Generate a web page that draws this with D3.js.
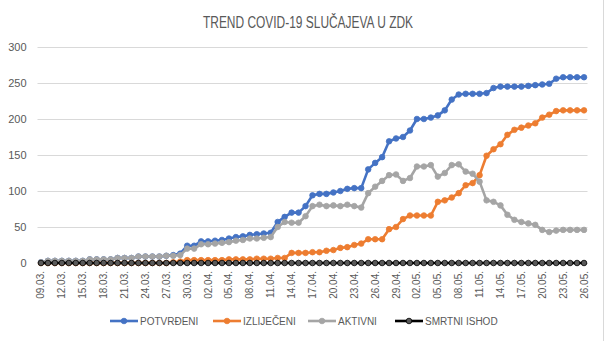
<!DOCTYPE html>
<html>
<head>
<meta charset="utf-8">
<script src="https://cdn.jsdelivr.net/npm/d3@7"></script>
<style>
  html, body { margin: 0; padding: 0; background: #fff; }
  svg { display: block; font-family: "Liberation Sans", Arial, sans-serif; }
</style>
</head>
<body>
<svg id="chart" width="605" height="341"></svg>
<script>
// ---- data ----
const dates = (function () {
  const out = [];
  const months = [[3, 9, 31], [4, 1, 30], [5, 1, 26]];
  months.forEach(([m, s, e]) => {
    for (let d = s; d <= e; d++) out.push(String(d).padStart(2, "0") + "." + String(m).padStart(2, "0") + ".");
  });
  return out;
})();

const potvrdeni = [1,3,3,3,3,3,3,5,5,5,5,7,7,7,9,9,9,9,10,11,13,24,24,30,30,31,32,34,36,37,39,40,41,42,57,64,70,70,79,94,96,96,98,100,103,104,104,130,139,147,169,173,175,184,200,200,202,205,212,227,234,235,235,235,236,243,245,245,245,245,246,247,248,249,256,258,258,258,258];
const izlijeceni = [0,0,0,0,0,0,0,0,0,0,0,0,0,0,0,0,0,0,0,1,2,4,4,4,4,4,4,5,5,5,5,6,6,6,7,7,14,14,14,15,15,17,18,21,22,25,27,33,33,33,47,50,61,66,66,66,66,85,87,91,97,108,111,122,149,158,165,178,185,188,191,194,202,206,211,212,212,212,212];
const aktivni = [1,3,3,3,3,3,3,5,5,5,5,7,7,7,9,9,9,9,10,10,11,20,20,26,26,27,28,29,31,32,34,34,35,36,50,57,56,56,65,79,81,79,80,79,81,79,77,97,106,114,122,123,114,118,134,134,136,120,125,136,137,127,124,113,87,85,80,67,60,57,55,53,46,43,45,46,46,46,46];
const smrtni = [0,0,0,0,0,0,0,0,0,0,0,0,0,0,0,0,0,0,0,0,0,0,0,0,0,0,0,0,0,0,0,0,0,0,0,0,0,0,0,0,0,0,0,0,0,0,0,0,0,0,0,0,0,0,0,0,0,0,0,0,0,0,0,0,0,0,0,0,0,0,0,0,0,0,0,0,0,0,0];

const seriesNames = ["POTVRĐENI", "IZLIJEČENI", "AKTIVNI", "SMRTNI ISHOD"];
const yTicks = [0, 50, 100, 150, 200, 250, 300];
const xTickLabels = dates.filter((d, i) => i % 3 === 0);
const title = "TREND COVID-19 SLUČAJEVA U ZDK";

// ---- styles ----
const colors = ["#4472C4", "#ED7D31", "#A5A5A5", "#000000"];
const markerFill = ["#4472C4", "#ED7D31", "#A5A5A5", "#595959"];
const textColor = "#595959";
const gridColor = "#d9d9d9";

const svg = d3.select("#chart");

// outer border (right edge visible)
svg.append("line").attr("x1", 603.5).attr("x2", 603.5).attr("y1", 0).attr("y2", 341)
  .attr("stroke", gridColor).attr("stroke-width", 1);

const plot = { left: 37.5, right: 587.5, top: 47, bottom: 263 };

const x = d3.scaleBand().domain(dates).range([plot.left, plot.right]).padding(0);
const xc = d => x(d) + x.bandwidth() / 2;
const y = d3.scaleLinear().domain([0, 300]).range([plot.bottom, plot.top]);

// title
svg.append("text")
  .attr("x", 308).attr("y", 28)
  .attr("text-anchor", "middle")
  .attr("font-size", 16)
  .attr("textLength", 210)
  .attr("lengthAdjust", "spacingAndGlyphs")
  .attr("fill", textColor)
  .text(title);

// gridlines + y axis
const yAxis = d3.axisLeft(y).tickValues(yTicks).tickSize(-(plot.right - plot.left)).tickPadding(11);
const gy = svg.append("g").attr("transform", `translate(${plot.left},0)`).call(yAxis);
gy.select(".domain").remove();
gy.selectAll(".tick line").attr("stroke", gridColor).attr("stroke-width", 1);
gy.selectAll(".tick text").attr("fill", textColor).attr("font-size", 11)
  .attr("font-family", "Liberation Sans, Arial, sans-serif");

// x axis
const xAxis = d3.axisBottom(x).tickValues(xTickLabels).tickSize(0).tickPadding(0);
const gx = svg.append("g").attr("transform", `translate(0,${plot.bottom})`).call(xAxis);
gx.select(".domain").attr("stroke", gridColor);
gx.selectAll(".tick text")
  .attr("fill", textColor).attr("font-size", 10)
  .attr("font-family", "Liberation Sans, Arial, sans-serif")
  .attr("text-anchor", "end")
  .attr("transform", "translate(0,8) rotate(-90)")
  .attr("x", 0).attr("y", 0).attr("dy", "0.35em");

// series
const allSeries = [potvrdeni, izlijeceni, aktivni, smrtni];
const line = d3.line().x((v, i) => xc(dates[i])).y(v => y(v));

allSeries.forEach((vals, s) => {
  const g = svg.append("g");
  g.append("path").datum(vals)
    .attr("d", line)
    .attr("fill", "none")
    .attr("stroke", colors[s])
    .attr("stroke-width", 2.6)
    .attr("stroke-linejoin", "round");
  g.selectAll("circle").data(vals).join("circle")
    .attr("cx", (v, i) => xc(dates[i]))
    .attr("cy", v => y(v))
    .attr("r", 2.8)
    .attr("fill", markerFill[s])
    .attr("stroke", colors[s])
    .attr("stroke-width", 0.8);
});

// legend
const legendX = [110, 213, 308, 395];
const legendY = 321;
seriesNames.forEach((name, s) => {
  const g = svg.append("g").attr("transform", `translate(${legendX[s]},${legendY})`);
  g.append("line").attr("x1", 0).attr("x2", 28).attr("y1", 0).attr("y2", 0)
    .attr("stroke", colors[s]).attr("stroke-width", 2.6);
  g.append("circle").attr("cx", 14).attr("cy", 0).attr("r", 2.8)
    .attr("fill", markerFill[s]).attr("stroke", colors[s]).attr("stroke-width", 0.8);
  g.append("text").attr("x", 30).attr("y", 0).attr("dy", "0.35em")
    .attr("font-size", 10).attr("fill", textColor).text(name);
});
</script>
</body>
</html>
